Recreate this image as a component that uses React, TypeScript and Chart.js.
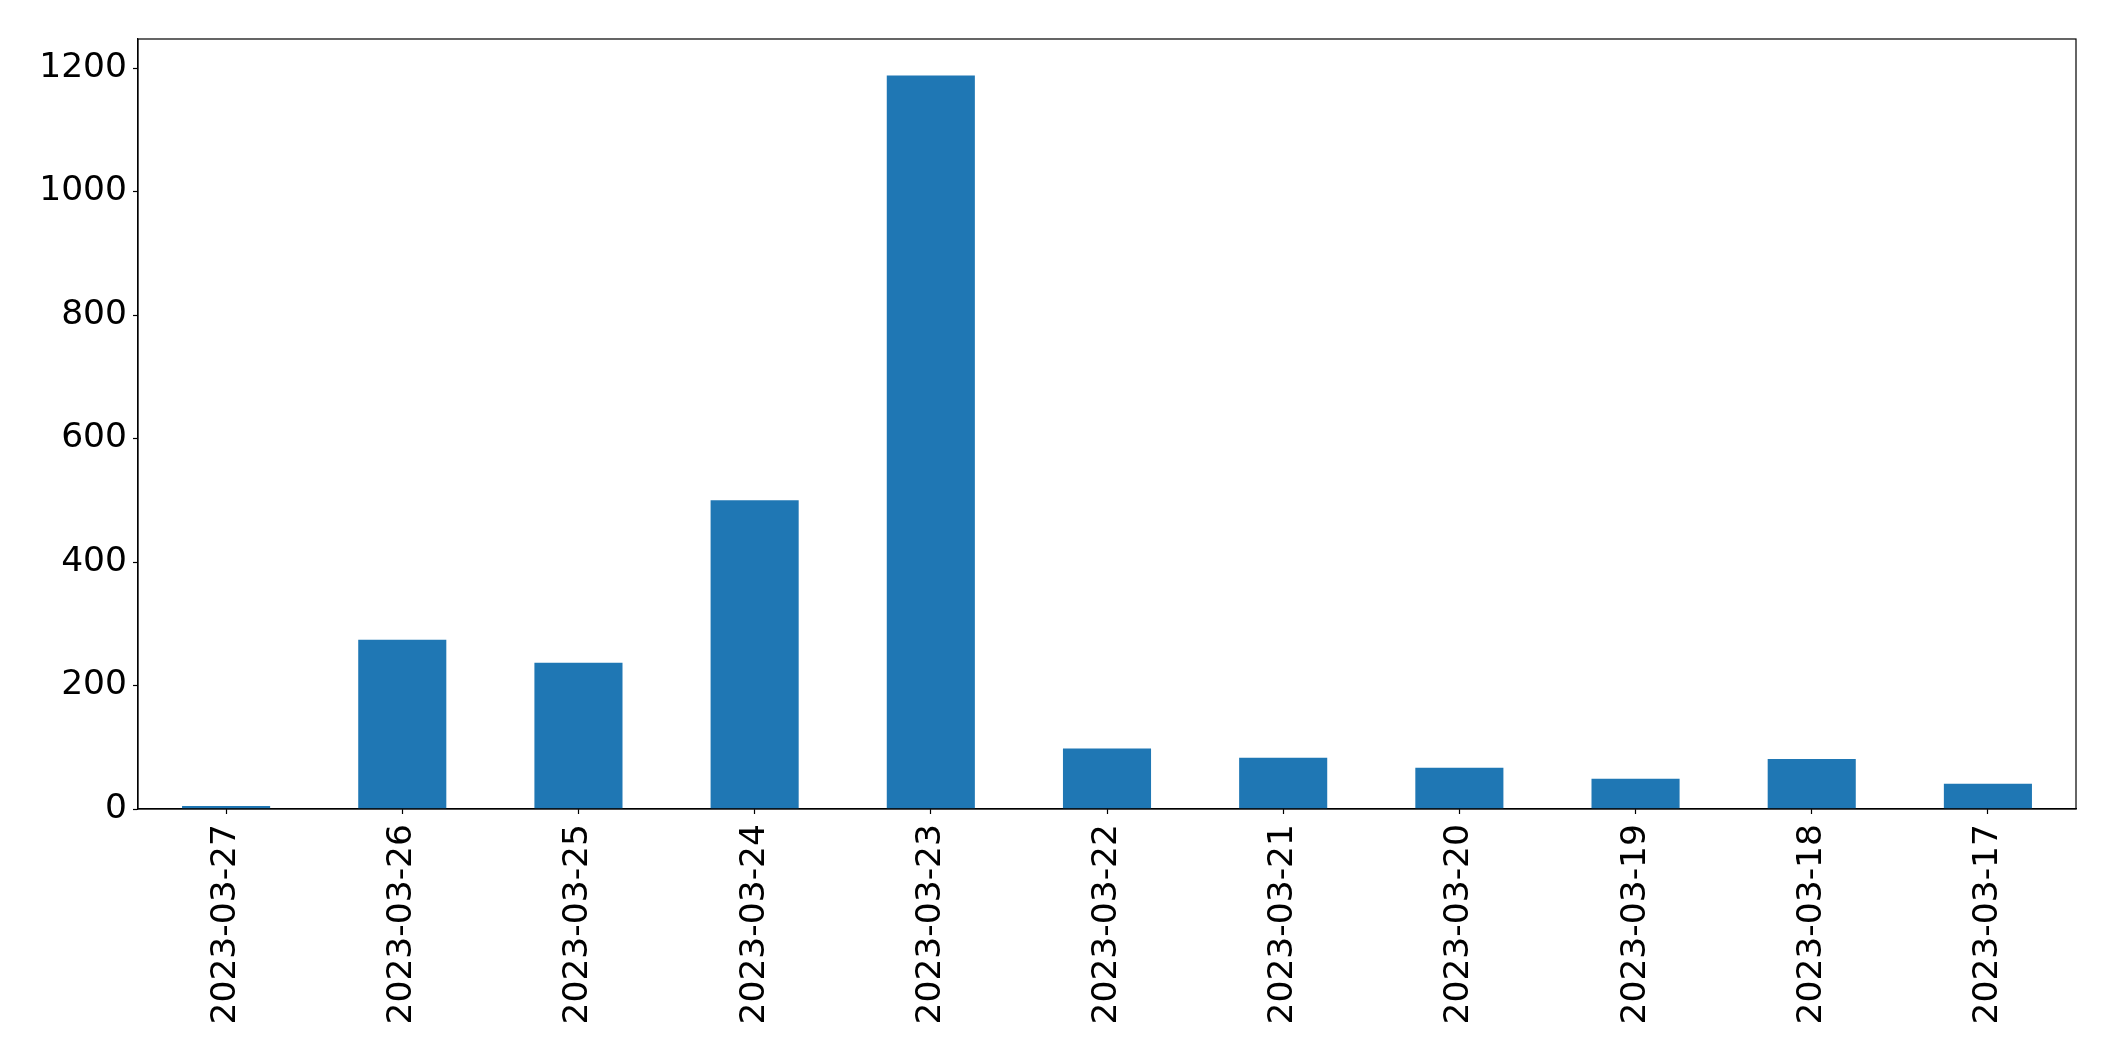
import React, { useEffect, useRef } from "react";
import { Chart, registerables } from "chart.js";

Chart.register(...registerables);

const categories = [
  "2023-03-27",
  "2023-03-26",
  "2023-03-25",
  "2023-03-24",
  "2023-03-23",
  "2023-03-22",
  "2023-03-21",
  "2023-03-20",
  "2023-03-19",
  "2023-03-18",
  "2023-03-17",
];
const values = [5, 274, 237, 500, 1188, 98, 83, 67, 49, 81, 41];
const yMax = 1247;
const yStep = 200;

const frame = {
  id: "frame",
  afterDraw(chart: any) {
    const { ctx, chartArea } = chart;
    ctx.save();
    ctx.strokeStyle = "#000";
    ctx.lineWidth = 1.2;
    ctx.strokeRect(chartArea.left, chartArea.top, chartArea.right - chartArea.left, chartArea.bottom - chartArea.top);
    ctx.restore();
  },
};

export default function App() {
  const ref = useRef<HTMLCanvasElement | null>(null);
  useEffect(() => {
    if (!ref.current) return;
    const font = { family: "'DejaVu Sans'", size: 34.5 };
    const chart = new Chart(ref.current, {
      type: "bar",
      data: {
        labels: categories,
        datasets: [
          {
            data: values,
            backgroundColor: "#1f77b4",
            borderWidth: 0,
            barPercentage: 0.5,
            categoryPercentage: 1,
          },
        ],
      },
      options: {
        animation: false,
        responsive: false,
        maintainAspectRatio: false,
        layout: { padding: { top: 39, right: 39, left: 0, bottom: 0 } },
        plugins: { legend: { display: false }, tooltip: { enabled: false } },
        scales: {
          x: {
            offset: true,
            grid: { display: true, offset: false, drawOnChartArea: false, drawTicks: true, tickLength: 5, tickColor: "#000", tickWidth: 1.2 },
            border: { display: true, color: "#000", width: 1.2 },
            ticks: { color: "#000", font, maxRotation: 90, minRotation: 90, padding: 10, autoSkip: false },
            afterFit: (s: any) => {
              s.height = 252;
            },
          },
          y: {
            min: 0,
            max: yMax,
            grid: { display: true, drawOnChartArea: false, drawTicks: true, tickLength: 5, tickColor: "#000", tickWidth: 1.2 },
            border: { display: true, color: "#000", width: 1.2 },
            ticks: {
              color: "#000",
              font,
              stepSize: yStep,
              includeBounds: false,
              padding: 6,
              callback: (v: any) => String(v),
            },
            afterFit: (s: any) => {
              s.width = 138;
            },
          },
        },
      },
      plugins: [frame],
    });
    return () => chart.destroy();
  }, []);
  return (
    <div style={{ position: "fixed", left: 0, top: 0, width: 2115, height: 1061, background: "#fff" }}>
      <canvas ref={ref} width={2115} height={1061} style={{ width: 2115, height: 1061, display: "block" }} />
    </div>
  );
}
